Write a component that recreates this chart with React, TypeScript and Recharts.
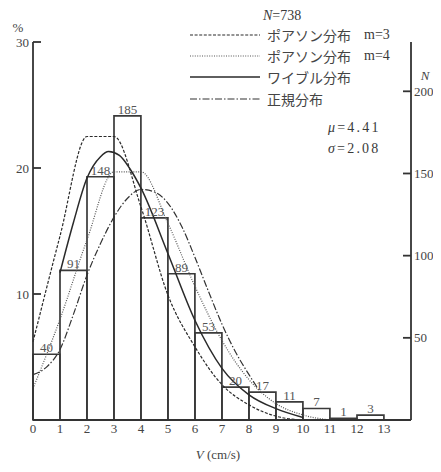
import {
  ComposedChart,
  Bar,
  Line,
  XAxis,
  YAxis,
  Legend,
  LabelList,
  Label,
} from "recharts";

const SERIF = '"Liberation Serif", "DejaVu Serif", serif';
const JP = '"Noto Sans CJK JP", "Noto Sans CJK SC", sans-serif';
const INK = "#333";

// histogram: bin left edge (cm/s) and count per bin
const binLeft = [0, 1, 2, 3, 4, 5, 6, 7, 8, 9, 10, 11, 12];
const binCounts = [40, 91, 148, 185, 123, 89, 53, 20, 17, 11, 7, 1, 3];

// fitted curves, in percent
const poissonX = [0, 1, 2, 3, 4, 5, 6, 7, 8, 9, 10];
const poissonM3 = [6.2, 14.6, 22.5, 22.5, 16.9, 9.9, 5.8, 2.8, 1.2, 0.3, 0];

const poissonM4X = [0, 1, 2, 3, 4, 5, 6, 7, 8, 9, 10, 11];
const poissonM4 = [2.5, 8.0, 14.3, 19.7, 19.7, 15.6, 10.6, 6.3, 3.2, 1.3, 0.4, 0];

const weibullX = [1, 1.5, 2, 2.5, 2.8, 3.2, 3.6, 4, 5, 6, 7, 8, 9, 10];
const weibull = [11.7, 15.7, 19.2, 20.9, 21.3, 21.0, 19.9, 18.4, 13.2, 7.9, 4.1, 2.0, 0.9, 0.2];

const normalX = [0, 0.5, 1, 1.5, 2, 2.5, 3, 3.5, 4, 4.5, 5, 5.5, 6, 6.5, 7, 7.5, 8, 8.3];
const normal = [3.6, 4.2, 5.6, 8.4, 11.5, 14.0, 16.1, 17.6, 18.3, 18.1, 17.2, 15.4, 12.9, 10.2, 7.6, 5.4, 3.6, 2.6];

const xTicks = [0, 1, 2, 3, 4, 5, 6, 7, 8, 9, 10, 11, 12, 13];
const pctTicks = [10, 20, 30];
const countTicks = [50, 100, 150, 200];

const toPoints = (xs: number[], ys: number[]) => xs.map((v, i) => ({ v, y: ys[i] }));

const series = [
  { key: "p3", name: "ポアソン分布", note: "m=3", dash: "3 1.6", width: 1.2, color: "#2a2a2a", points: toPoints(poissonX, poissonM3) },
  { key: "p4", name: "ポアソン分布", note: "m=4", dash: "1 1.4", width: 1.2, color: "#555", points: toPoints(poissonM4X, poissonM4) },
  { key: "wb", name: "ワイブル分布", note: "", dash: undefined, width: 1.5, color: "#2a2a2a", points: toPoints(weibullX, weibull) },
  { key: "nm", name: "正規分布", note: "", dash: "7 2 1.5 2", width: 1.2, color: "#333", points: toPoints(normalX, normal) },
];

// one row per bin, centred on the bin
const bins = binLeft.map((b, i) => ({ v: b + 0.5, count: binCounts[i] }));

const LeftTick = ({ x, y, payload }: any) => (
  <g>
    <line x1={x + 3} x2={x + 11} y1={y} y2={y} stroke={INK} strokeWidth={1.8} />
    <text x={x - 1} y={y} dy={4.5} textAnchor="end" fontSize={13} fontFamily={SERIF} fill="#444">
      {payload.value}
    </text>
  </g>
);

const RightTick = ({ x, y, payload }: any) => (
  <g>
    <line x1={x - 11} x2={x - 3} y1={y} y2={y} stroke={INK} strokeWidth={1.8} />
    <text x={x} y={y} dy={4.5} textAnchor="start" fontSize={13} fontFamily={SERIF} fill="#444">
      {payload.value}
    </text>
  </g>
);

const CountLabel = ({ x, y, width, value }: any) => (
  <text
    x={x + width / 2}
    y={y - 2}
    textAnchor="middle"
    fontSize={13}
    fontFamily={SERIF}
    fill="#555"
    stroke="none"
  >
    {value}
  </text>
);

const LegendBox = () => (
  <div style={{ fontFamily: SERIF, color: "#3a3a3a", width: 240 }}>
    <div style={{ height: 16, lineHeight: "16px", paddingLeft: 73, fontSize: 14 }}>
      <i>N</i>=738
    </div>
    {series.map((s) => (
      <div key={s.key} style={{ height: 21.3, display: "flex", alignItems: "center" }}>
        <svg width={71} height={6}>
          <line x1={0} x2={70} y1={3} y2={3} stroke={s.color} strokeWidth={s.width} strokeDasharray={s.dash} />
        </svg>
        <span style={{ marginLeft: 6, fontFamily: JP, fontSize: 14, color: "#444" }}>{s.name}</span>
        {s.note && <span style={{ marginLeft: 13, fontSize: 14 }}>{s.note}</span>}
      </div>
    ))}
    <div style={{ height: 21, lineHeight: "21px", marginTop: 7.5, paddingLeft: 138, fontSize: 14, letterSpacing: 2.2 }}>
      <i>μ</i>=4.41
    </div>
    <div style={{ height: 21, lineHeight: "21px", paddingLeft: 138, fontSize: 14, letterSpacing: 2.2 }}>
      <i>σ</i>=2.08
    </div>
  </div>
);

export default function App() {
  return (
    <div style={{ background: "#fff", width: 433, height: 465 }}>
      <ComposedChart width={433} height={465} data={bins} margin={{ top: 34, right: 0, bottom: 0, left: 0 }}>
        {/* same scale as the visible axis, used only by the histogram so each bar spans a whole bin */}
        <XAxis xAxisId="bins" dataKey="v" type="number" domain={[0, 14]} height={0} hide />
        <XAxis
          xAxisId="v"
          dataKey="v"
          type="number"
          domain={[0, 14]}
          ticks={xTicks}
          interval={0}
          tickLine={false}
          tickSize={0}
          tickMargin={4}
          height={53}
          axisLine={{ stroke: INK, strokeWidth: 1.8 }}
          tick={{ fontSize: 13, fontFamily: SERIF, fill: "#444" }}
        >
          <Label
            content={({ viewBox }: any) => (
              <text
                x={viewBox.x + viewBox.width / 2 - 4}
                y={viewBox.y + 39}
                textAnchor="middle"
                fontSize={13}
                fontFamily={SERIF}
                fill="#444"
              >
                <tspan fontStyle="italic">V</tspan> (cm/s)
              </text>
            )}
          />
        </XAxis>
        <YAxis
          yAxisId="pct"
          orientation="left"
          type="number"
          domain={[0, 30]}
          ticks={pctTicks}
          width={25}
          tickLine={false}
          tickSize={0}
          tickMargin={3}
          axisLine={{ stroke: INK, strokeWidth: 1.8 }}
          tick={<LeftTick />}
        >
          <Label
            content={({ viewBox }: any) => (
              <text x={viewBox.x + 10} y={viewBox.y - 10} textAnchor="middle" fontSize={13} fontFamily={SERIF} fill="#444">
                %
              </text>
            )}
          />
        </YAxis>
        <YAxis
          yAxisId="n"
          orientation="right"
          type="number"
          domain={[0, 230]}
          ticks={countTicks}
          width={30}
          tickLine={false}
          tickSize={0}
          tickMargin={3}
          axisLine={{ stroke: INK, strokeWidth: 1.8 }}
          tick={<RightTick />}
        >
          <Label
            content={({ viewBox }: any) => (
              <text
                x={viewBox.x + 14}
                y={viewBox.y + 38}
                textAnchor="middle"
                fontSize={13}
                fontStyle="italic"
                fontFamily={SERIF}
                fill="#444"
              >
                N
              </text>
            )}
          />
        </YAxis>
        <Legend
          layout="vertical"
          align="center"
          verticalAlign="middle"
          content={() => <LegendBox />}
          wrapperStyle={{ top: 0, left: 182, width: 240 }}
        />
        <Bar
          xAxisId="bins"
          yAxisId="n"
          dataKey="count"
          barSize={26.9}
          fill="none"
          stroke="#3a3a3a"
          strokeWidth={1.7}
          isAnimationActive={false}
        >
          <LabelList dataKey="count" content={<CountLabel />} />
        </Bar>
        {series.map((s) => (
          <Line
            key={s.key}
            data={s.points}
            xAxisId="v"
            yAxisId="pct"
            dataKey="y"
            type="monotone"
            dot={false}
            stroke={s.color}
            strokeWidth={s.width}
            strokeDasharray={s.dash}
            isAnimationActive={false}
          />
        ))}
      </ComposedChart>
    </div>
  );
}
